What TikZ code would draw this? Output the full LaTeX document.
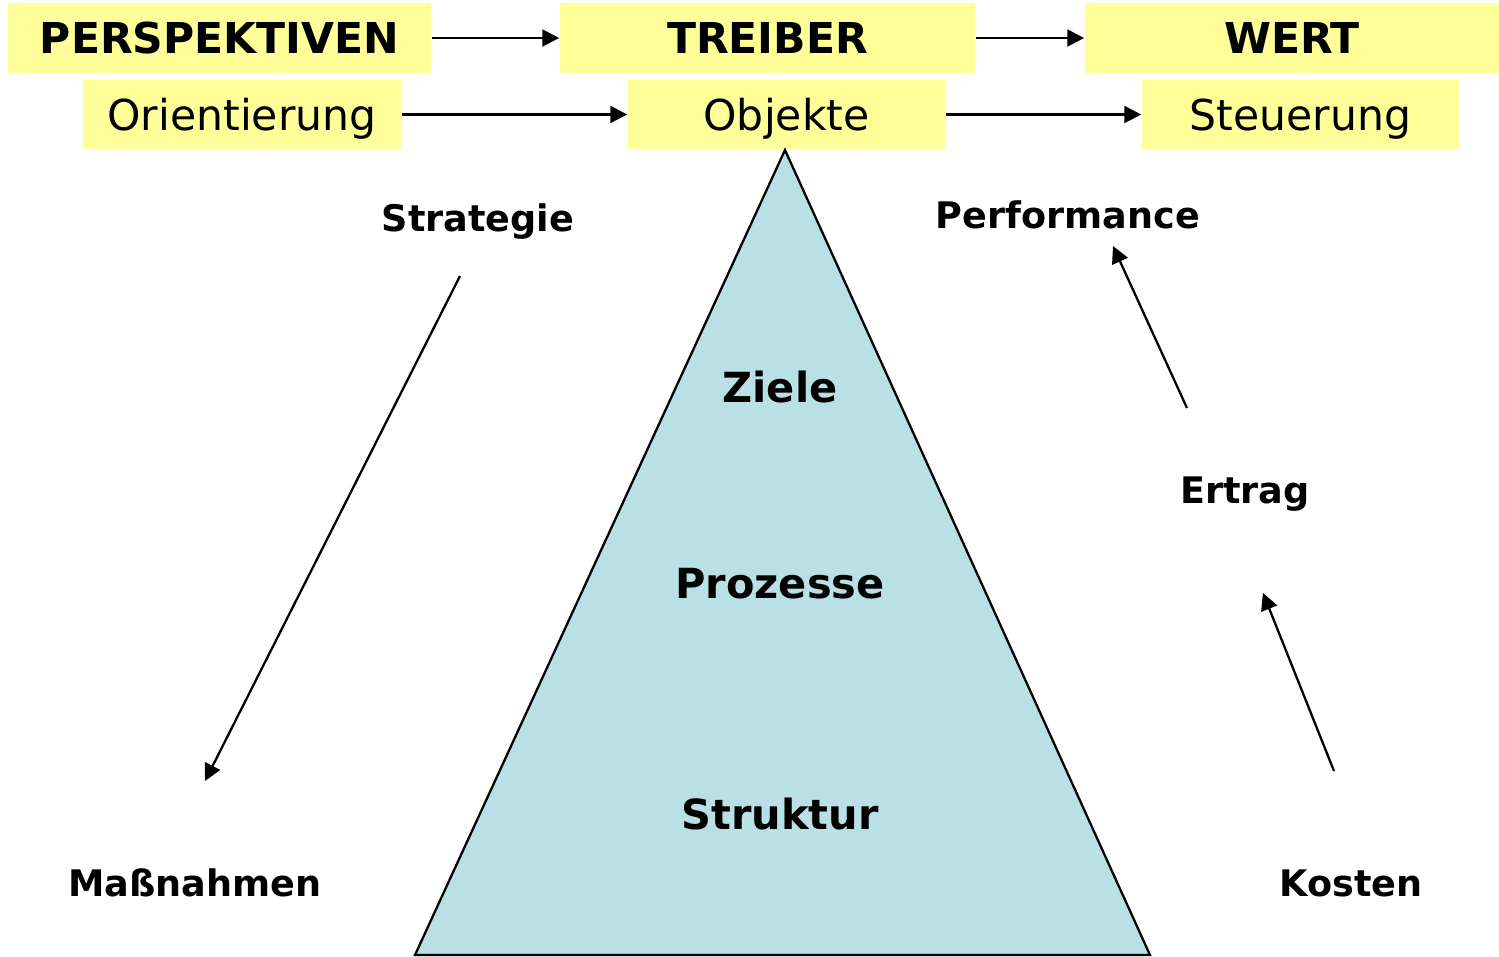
\documentclass[tikz,border=0pt]{standalone}
\usepackage{fontspec}
\setmainfont{DejaVu Sans}
\usepackage{xcolor}
\usepackage{tikz}
\usetikzlibrary{positioning,arrows.meta}

\definecolor{gelb}{HTML}{FFFF99}
\definecolor{eisblau}{HTML}{B9E0E4}

\begin{document}
\begin{tikzpicture}[x=0.01cm, y=-0.01cm,
    kopf/.style={fill=gelb, inner sep=0pt, minimum height=0.70cm, font=\fontsize{12.1}{14}\selectfont\bfseries},
    zeile/.style={fill=gelb, inner sep=0pt, minimum height=0.69cm, text height=9.2pt, text depth=0pt, font=\fontsize{12.1}{14}\selectfont},
    innen/.style={font=\fontsize{11.8}{14}\selectfont\bfseries},
    aussen/.style={text height=7.9pt, text depth=0pt, font=\fontsize{10.4}{12}\selectfont\bfseries},
    pfeil/.style={line width=0.65pt, -{Triangle[length=4.8pt, width=4.8pt]}}]
    \useasboundingbox (0,0) rectangle (1499,957);

    \node[kopf, minimum width=4.23cm] (persp) at (219.5,38) {PERSPEKTIVEN};
    \node[kopf, minimum width=4.15cm] (treiber) at (767.5,38) {TREIBER};
    \node[kopf, minimum width=4.14cm] (wert) at (1292,38) {WERT};

    \node[zeile, minimum width=3.18cm] (orient) at (242,114.5) {Orientierung};
    \node[zeile, minimum width=3.17cm] (objekte) at (786.5,114.5) {Objekte};
    \node[zeile, minimum width=3.17cm] (steuer) at (1300.5,114.5) {Steuerung};

    \draw[pfeil] (persp) -- (treiber);
    \draw[pfeil] (treiber) -- (wert);
    \draw[pfeil] (orient) -- (objekte);
    \draw[pfeil] (objekte) -- (steuer);

    \draw[line width=0.65pt, fill=eisblau] (785,150) -- (415,955) -- (1150,955) -- cycle;
    \node[innen] (ziele) at (780,387) {Ziele};
    \node[innen] (prozesse) at (780,584) {Prozesse};
    \node[innen] (struktur) at (780,814) {Struktur};

    \node[aussen] (strat) at (478,218) {Strategie};
    \node[aussen] (mass) at (195,883) {Maßnahmen};
    \node[aussen] (perf) at (1068,215) {Performance};
    \node[aussen] (ertrag) at (1245,490) {Ertrag};
    \node[aussen] (kosten) at (1351,883) {Kosten};

    \coordinate (s1) at (460,276);
    \coordinate (s2) at (205,781);
    \coordinate (e1) at (1187,408);
    \coordinate (e2) at (1113,246);
    \coordinate (k1) at (1334,771);
    \coordinate (k2) at (1263,593);
    \draw[pfeil] (s1) -- (s2);
    \draw[pfeil] (e1) -- (e2);
    \draw[pfeil] (k1) -- (k2);
\end{tikzpicture}
\end{document}
